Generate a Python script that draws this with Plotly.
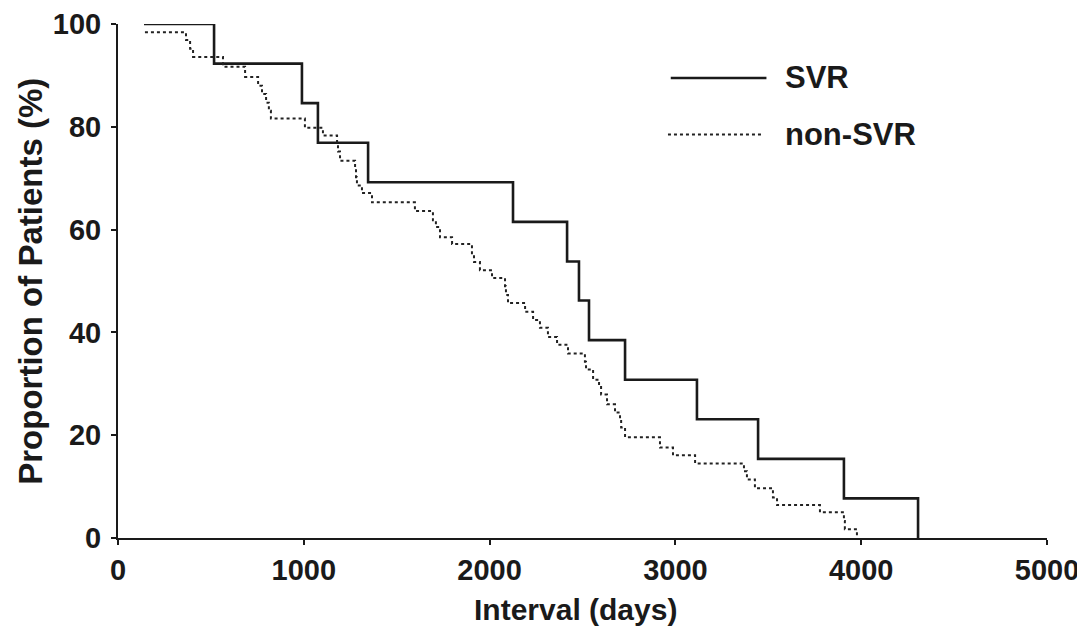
import plotly.graph_objects as go

# SVR group (Kaplan-Meier style steps): interval in days, proportion (%)
svr_days = [140, 517, 990, 1076, 1346, 2126, 2417, 2481, 2535, 2729, 3116, 3445, 3907, 4306]
svr_pct = [100, 92.3, 84.6, 76.9, 69.2, 61.5, 53.8, 46.2, 38.5, 30.8, 23.1, 15.4, 7.7, 0]

# non-SVR group
nonsvr_days = [145, 366, 388, 404, 565, 684, 754, 775, 797, 812, 823, 1006, 1103, 1179, 1184,
               1195, 1276, 1281, 1286, 1313, 1367, 1598, 1695, 1711, 1733, 1798, 1905, 1916,
               1948, 2013, 2083, 2088, 2099, 2191, 2234, 2271, 2314, 2363, 2422, 2513, 2519,
               2557, 2589, 2600, 2632, 2675, 2702, 2708, 2729, 2917, 2987, 3106, 3369, 3385,
               3428, 3525, 3547, 3778, 3907, 3912, 3977]
nonsvr_pct = [98.4, 96.9, 95.2, 93.6, 91.7, 89.7, 88.0, 86.4, 84.7, 83.1, 81.6, 79.8, 78.3,
              76.7, 75.2, 73.4, 71.9, 70.2, 68.6, 67.1, 65.3, 63.6, 61.8, 60.5, 58.5, 57.2,
              55.4, 53.7, 52.1, 50.6, 49.0, 47.3, 45.7, 44.0, 42.4, 40.9, 39.1, 37.6, 35.9,
              34.3, 32.8, 30.8, 29.7, 27.9, 26.0, 24.4, 23.1, 21.5, 19.6, 17.6, 16.1, 14.5,
              13.0, 11.4, 9.7, 7.9, 6.4, 5.0, 3.3, 1.7, 0]

x_ticks = [0, 1000, 2000, 3000, 4000, 5000]
y_ticks = [0, 20, 40, 60, 80, 100]

FONT = "Liberation Sans"
INK = "#1a1a1a"

fig = go.Figure()
fig.add_trace(go.Scatter(x=svr_days, y=svr_pct, mode="lines", line_shape="hv",
                         line=dict(color=INK, width=2.6), name="SVR"))
fig.add_trace(go.Scatter(x=nonsvr_days, y=nonsvr_pct, mode="lines", line_shape="hv",
                         line=dict(color="#222222", width=2, dash="dot"), name="non-SVR"))

axis_common = dict(showline=True, linecolor=INK, linewidth=2, ticks="outside",
                   ticklen=5, tickwidth=1.5, tickcolor=INK, showgrid=False,
                   zeroline=False, automargin=False, ticklabeloverflow="allow",
                   tickfont=dict(family=FONT, size=29, color=INK, weight="bold"))

# page body adds 8px, so the figure is a bit smaller than the window
fig.update_layout(
    width=1077, height=626,
    paper_bgcolor="white", plot_bgcolor="white",
    margin=dict(l=110, r=38, t=16, b=96),
    showlegend=False,
    xaxis=dict(range=[0, 5000], tickvals=x_ticks, **axis_common),
    yaxis=dict(range=[0, 100], tickvals=y_ticks, ticklabelstandoff=4, **axis_common),
)

# axis titles
fig.add_annotation(text="Interval (days)", xref="paper", yref="paper", x=0.492, y=-0.14,
                   showarrow=False, xanchor="center", yanchor="middle",
                   font=dict(family=FONT, size=30, color=INK, weight="bold"))
fig.add_annotation(text="Proportion of Patients (%)", xref="paper", yref="paper",
                   x=-0.095, y=0.5, textangle=-90, showarrow=False,
                   xanchor="center", yanchor="middle",
                   font=dict(family=FONT, size=33, color=INK, weight="bold"))

# legend drawn by hand to match the long line samples
fig.add_shape(type="line", xref="paper", yref="paper", x0=0.595, x1=0.698, y0=0.895, y1=0.895,
              line=dict(color=INK, width=2.6))
fig.add_shape(type="line", xref="paper", yref="paper", x0=0.592, x1=0.694, y0=0.785, y1=0.785,
              line=dict(color="#222222", width=2, dash="dot"))
fig.add_annotation(text="SVR", xref="paper", yref="paper", x=0.716, y=0.895,
                   xanchor="left", yanchor="middle", showarrow=False,
                   font=dict(family=FONT, size=31, color=INK, weight="bold"))
fig.add_annotation(text="non-SVR", xref="paper", yref="paper", x=0.716, y=0.785,
                   xanchor="left", yanchor="middle", showarrow=False,
                   font=dict(family=FONT, size=31, color=INK, weight="bold"))

fig.write_html("out.html")
